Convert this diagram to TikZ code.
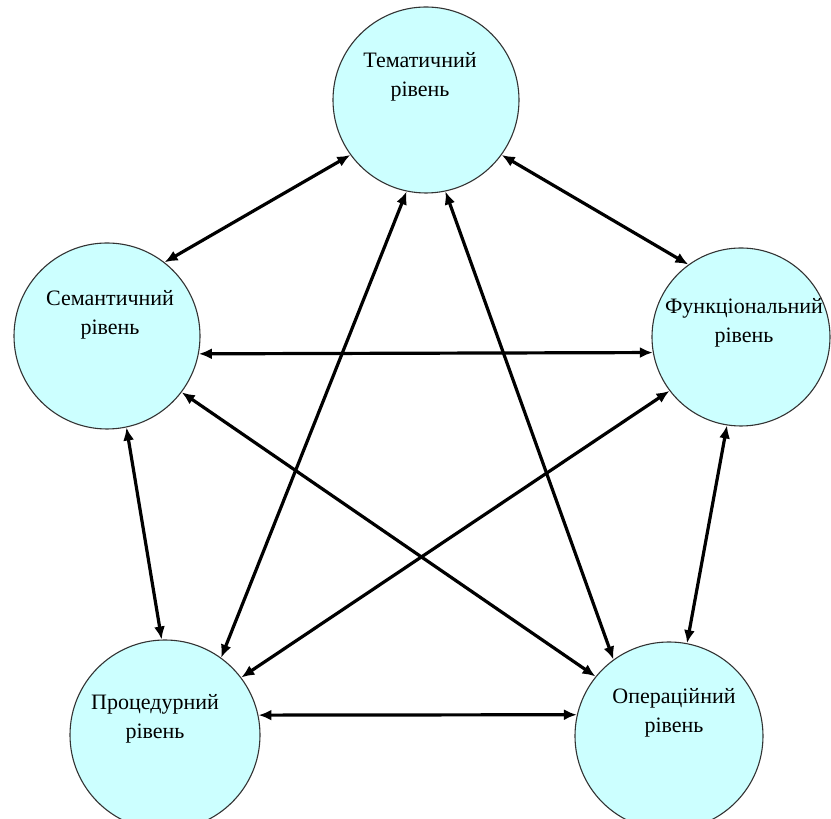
\documentclass[tikz,border=0pt]{standalone}
\usepackage{fontspec}
\setmainfont{Liberation Serif}
\usetikzlibrary{positioning, arrows.meta, calc}
\definecolor{levelfill}{RGB}{204,255,255}
\tikzset{
    x=1pt, y=1pt, % one unit is one pixel of the picture
    level/.style={ % Sets the properties for each level circle
        circle,
        draw=black!80,
        line width=1.1pt,
        fill=levelfill,
        minimum size=186pt
    },
    lbl/.style={ % Text inside the circles
        align=center,
        font=\fontsize{22}{29}\selectfont
    },
    every edge/.style={ % Sets the properties for each link
        draw,
        <->,>={Latex[length=13pt,width=11pt]},
        line width=3.2pt
    },
}

\begin{document}
\begin{tikzpicture}
            \useasboundingbox (0,0) rectangle (831,819);
            \node[level]                        (T)     at (426,719) {};
            \node[level]                        (S)     at (107,483) {};
            \node[level, minimum size=178pt]    (F)     at (741,482) {};
            \node[level, minimum size=190pt]    (P)     at (165,84)  {};
            \node[level, minimum size=188pt]    (O)     at (669,83)  {};

            \node[lbl]  (Tt)    at ($(T)+(-6,23)$)  {Тематичний\\рівень};
            \node[lbl]  (St)    at ($(S)+(3,21)$)   {Семантичний\\рівень};
            \node[lbl]  (Ft)    at ($(F)+(3,14)$)   {Функціональний\\рівень};
            \node[lbl]  (Pt)    at ($(P)+(-10,16)$) {Процедурний\\рівень};
            \node[lbl]  (Ot)    at ($(O)+(5,23)$)   {Операційний\\рівень};

            \draw   (T.216)     edge    (S.52)
                    (T.324)     edge    (F.126)
                    (T.258)     edge    (P.54)
                    (T.282)     edge    (O.126)
                    (S.349)     edge    (F.190)
                    (S.282)     edge    (P.92)
                    (S.323)     edge    (O.141)
                    (F.217)     edge    (P.37)
                    (F.261)     edge    (O.79)
                    (P.12)      edge    (O.167)
            ;
\end{tikzpicture}
\end{document}
